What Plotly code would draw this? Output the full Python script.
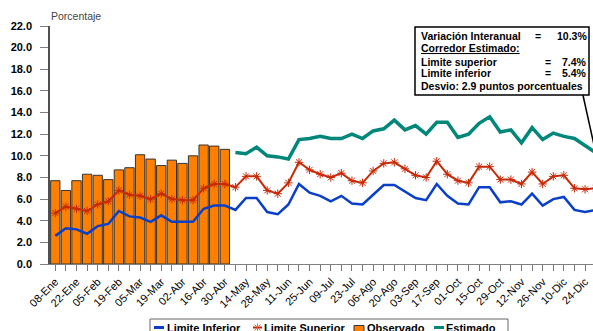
import plotly.graph_objects as go

# Weekly categories (one per week of the year)
WEEKS = [
    "08-Ene", "15-Ene", "22-Ene", "29-Ene", "05-Feb", "12-Feb", "19-Feb", "26-Feb",
    "05-Mar", "12-Mar", "19-Mar", "26-Mar", "02-Abr", "09-Abr", "16-Abr", "23-Abr",
    "30-Abr", "07-May", "14-May", "21-May", "28-May", "04-Jun", "11-Jun", "18-Jun",
    "25-Jun", "02-Jul", "09-Jul", "16-Jul", "23-Jul", "30-Jul", "06-Ago", "13-Ago",
    "20-Ago", "27-Ago", "03-Sep", "10-Sep", "17-Sep", "24-Sep", "01-Oct", "08-Oct",
    "15-Oct", "22-Oct", "29-Oct", "05-Nov", "12-Nov", "19-Nov", "26-Nov", "03-Dic",
    "10-Dic", "17-Dic", "24-Dic", "31-Dic",
]

OBSERVADO = [7.7, 6.8, 7.7, 8.3, 8.2, 7.8, 8.7, 8.9, 10.1, 9.7, 9.1, 9.6, 9.3,
             10.0, 11.0, 10.9, 10.6]

LIMITE_INFERIOR = [2.6, 3.3, 3.2, 2.8, 3.5, 3.7, 4.9, 4.4, 4.3, 3.9, 4.5, 3.9, 3.9,
                   3.9, 5.1, 5.4, 5.4, 5.0, 6.1, 6.1, 4.8, 4.6, 5.5, 7.4, 6.6, 6.3,
                   5.8, 6.3, 5.6, 5.5, 6.4, 7.3, 7.3, 6.7, 6.1, 5.9, 7.4, 6.3, 5.6,
                   5.5, 7.1, 7.1, 5.7, 5.8, 5.5, 6.5, 5.4, 6.0, 6.2, 5.0, 4.8, 5.0]

LIMITE_SUPERIOR = [4.7, 5.3, 5.1, 4.9, 5.5, 5.8, 6.8, 6.4, 6.3, 6.0, 6.5, 6.0, 5.9,
                   5.9, 7.0, 7.4, 7.4, 7.1, 8.1, 8.1, 6.8, 6.5, 7.5, 9.4, 8.7, 8.3,
                   8.0, 8.4, 7.7, 7.5, 8.6, 9.3, 9.4, 8.8, 8.2, 8.0, 9.5, 8.3, 7.7,
                   7.5, 9.0, 9.0, 7.8, 7.8, 7.4, 8.5, 7.4, 8.1, 8.2, 7.0, 6.9, 7.0]

ESTIMADO = [10.3, 10.2, 10.8, 10.0, 9.9, 9.7, 11.5, 11.6, 11.8, 11.6, 11.6, 12.0,
            11.6, 12.3, 12.5, 13.3, 12.4, 12.8, 12.0, 13.1, 13.1, 11.7, 12.0, 13.0,
            13.6, 12.2, 12.4, 11.2, 12.6, 11.5, 12.1, 11.8, 11.6, 11.0, 10.3]

Y_TICKS = [0, 2, 4, 6, 8, 10, 12, 14, 16, 18, 20, 22]

# Summary box lines: (label, value)
RESUMEN = [
    ("Variación Interanual", "10.3%"),
    ("Corredor Estimado:", None),
    ("Limite superior", "7.4%"),
    ("Limite inferior", "5.4%"),
    ("Desvio: 2.9 puntos porcentuales", None),
]

FONT = "Liberation Sans, Arial, sans-serif"
BLUE = "#0A3FC8"
RED = "#C82A08"
STAR = "#E8694A"
TEAL = "#00877A"
ORANGE = "#FF8000"

W, H = 593, 331
M_L, M_R, M_T, M_B = 50, 0, 26, 67


def px(x):
    return (x - M_L) / (W - M_L - M_R)


def py(y):
    return (H - M_B - y) / (H - M_T - M_B)


est_x = WEEKS[len(WEEKS) - len(ESTIMADO):]

fig = go.Figure()
fig.add_trace(go.Bar(
    x=WEEKS[:len(OBSERVADO)], y=OBSERVADO, name="Observado",
    marker=dict(color=ORANGE, line=dict(color="#333333", width=1)),
))
fig.add_trace(go.Scatter(
    x=WEEKS, y=LIMITE_INFERIOR, name="Limite Inferior", mode="lines",
    line=dict(color=BLUE, width=2.5),
))
fig.add_trace(go.Scatter(
    x=WEEKS, y=LIMITE_SUPERIOR, name="Limite Superior", mode="lines+markers",
    line=dict(color=RED, width=2),
    marker=dict(symbol="asterisk-open", size=7, line=dict(color=STAR, width=1)),
))
fig.add_trace(go.Scatter(
    x=est_x, y=ESTIMADO, name="Estimado", mode="lines",
    line=dict(color=TEAL, width=3.5),
))

ticktext = [w if i % 2 == 0 else "" for i, w in enumerate(WEEKS)]

fig.update_layout(
    width=W, height=H,
    margin=dict(l=M_L, r=M_R, t=M_T, b=M_B, autoexpand=False),
    paper_bgcolor="white", plot_bgcolor="white",
    showlegend=False,
    bargap=0.12,
    font=dict(family=FONT, color="black"),
    xaxis=dict(
        type="category", range=[-0.5, 50.75],
        tickmode="array", tickvals=WEEKS, ticktext=ticktext,
        tickangle=-45, tickfont=dict(size=11, family=FONT, color="black"),
        ticks="outside", ticklen=6, tickcolor="#777777", tickwidth=1,
        showline=True, linecolor="#808080", linewidth=1,
        showgrid=False, zeroline=False,
    ),
    yaxis=dict(
        range=[0, 22], tickmode="array", tickvals=Y_TICKS,
        ticktext=[f"{v:.1f}" for v in Y_TICKS],
        tickfont=dict(size=11, family=FONT, color="black", weight="bold"),
        ticks="outside", ticklen=8, tickcolor="#808080", tickwidth=1,
        ticklabelstandoff=6,
        showline=True, linecolor="#505050", linewidth=1.5,
        showgrid=False, zeroline=False,
    ),
)

annotations = []
shapes = []

# Axis title at the top of the value axis
annotations.append(dict(
    xref="paper", yref="paper", x=px(49), y=py(16), xanchor="left", yanchor="middle",
    text="Porcentaje", showarrow=False,
    font=dict(size=10.5, family=FONT, color="#444444"),
))

# Summary box
shapes.append(dict(
    type="rect", xref="paper", yref="paper",
    x0=px(415), x1=px(589), y0=py(27), y1=py(95),
    line=dict(color="black", width=1.5), fillcolor="white", layer="above",
))
line_y = [36.5, 48, 61.5, 73, 85.5]
eq_x = [538, None, 548, 548, None]
box_font = dict(size=10.5, family=FONT, color="black", weight="bold")
for (label, value), yy, ex in zip(RESUMEN, line_y, eq_x):
    txt = f"<u>{label}</u>" if label.endswith(":") else label
    annotations.append(dict(
        xref="paper", yref="paper", x=px(419), y=py(yy), xanchor="left",
        yanchor="middle", text=txt, showarrow=False, font=box_font,
    ))
    if value is not None:
        annotations.append(dict(
            xref="paper", yref="paper", x=px(ex), y=py(yy), xanchor="center",
            yanchor="middle", text="=", showarrow=False, font=box_font,
        ))
        annotations.append(dict(
            xref="paper", yref="paper", x=px(589), y=py(yy), xanchor="right",
            yanchor="middle", text=value, showarrow=False, font=box_font,
        ))

# Pointer from the box to the last estimated week
last_idx = len(WEEKS) - 1
shapes.append(dict(
    type="line", xref="x", yref="y",
    x0=last_idx - 1.2, y0=(H - M_B - 95) / ((H - M_T - M_B) / 22),
    x1=last_idx, y1=ESTIMADO[-1],
    line=dict(color="black", width=1.5), layer="above",
))

# Legend drawn along the bottom edge
shapes.append(dict(
    type="rect", xref="paper", yref="paper",
    x0=px(150), x1=px(508), y0=py(319), y1=py(345),
    line=dict(color="#666666", width=1), fillcolor="white",
))
ly = 327.5
shapes += [
    dict(type="line", xref="paper", yref="paper", x0=px(154), x1=px(164),
         y0=py(ly), y1=py(ly), line=dict(color=BLUE, width=3)),
    dict(type="line", xref="paper", yref="paper", x0=px(253), x1=px(262),
         y0=py(ly), y1=py(ly), line=dict(color=RED, width=2)),
    dict(type="line", xref="paper", yref="paper", x0=px(257.5), x1=px(257.5),
         y0=py(ly - 4), y1=py(ly + 4), line=dict(color=STAR, width=1)),
    dict(type="line", xref="paper", yref="paper", x0=px(254.5), x1=px(260.5),
         y0=py(ly - 3), y1=py(ly + 3), line=dict(color=STAR, width=1)),
    dict(type="line", xref="paper", yref="paper", x0=px(254.5), x1=px(260.5),
         y0=py(ly + 3), y1=py(ly - 3), line=dict(color=STAR, width=1)),
    dict(type="rect", xref="paper", yref="paper", x0=px(354), x1=px(364),
         y0=py(325.5), y1=py(336), fillcolor=ORANGE, line=dict(color="#333333", width=1)),
    dict(type="line", xref="paper", yref="paper", x0=px(434), x1=px(444),
         y0=py(ly), y1=py(ly), line=dict(color=TEAL, width=3)),
]
legend_font = dict(size=11, family=FONT, color="black", weight="bold")
for name, lx in [("Limite Inferior", 165), ("Limite Superior", 262),
                 ("Observado", 365), ("Estimado", 444)]:
    annotations.append(dict(
        xref="paper", yref="paper", x=px(lx), y=py(ly), xanchor="left",
        yanchor="middle", text=name, showarrow=False, font=legend_font,
    ))

fig.update_layout(annotations=annotations, shapes=shapes)

fig.write_html("out.html", config={"displayModeBar": False})
